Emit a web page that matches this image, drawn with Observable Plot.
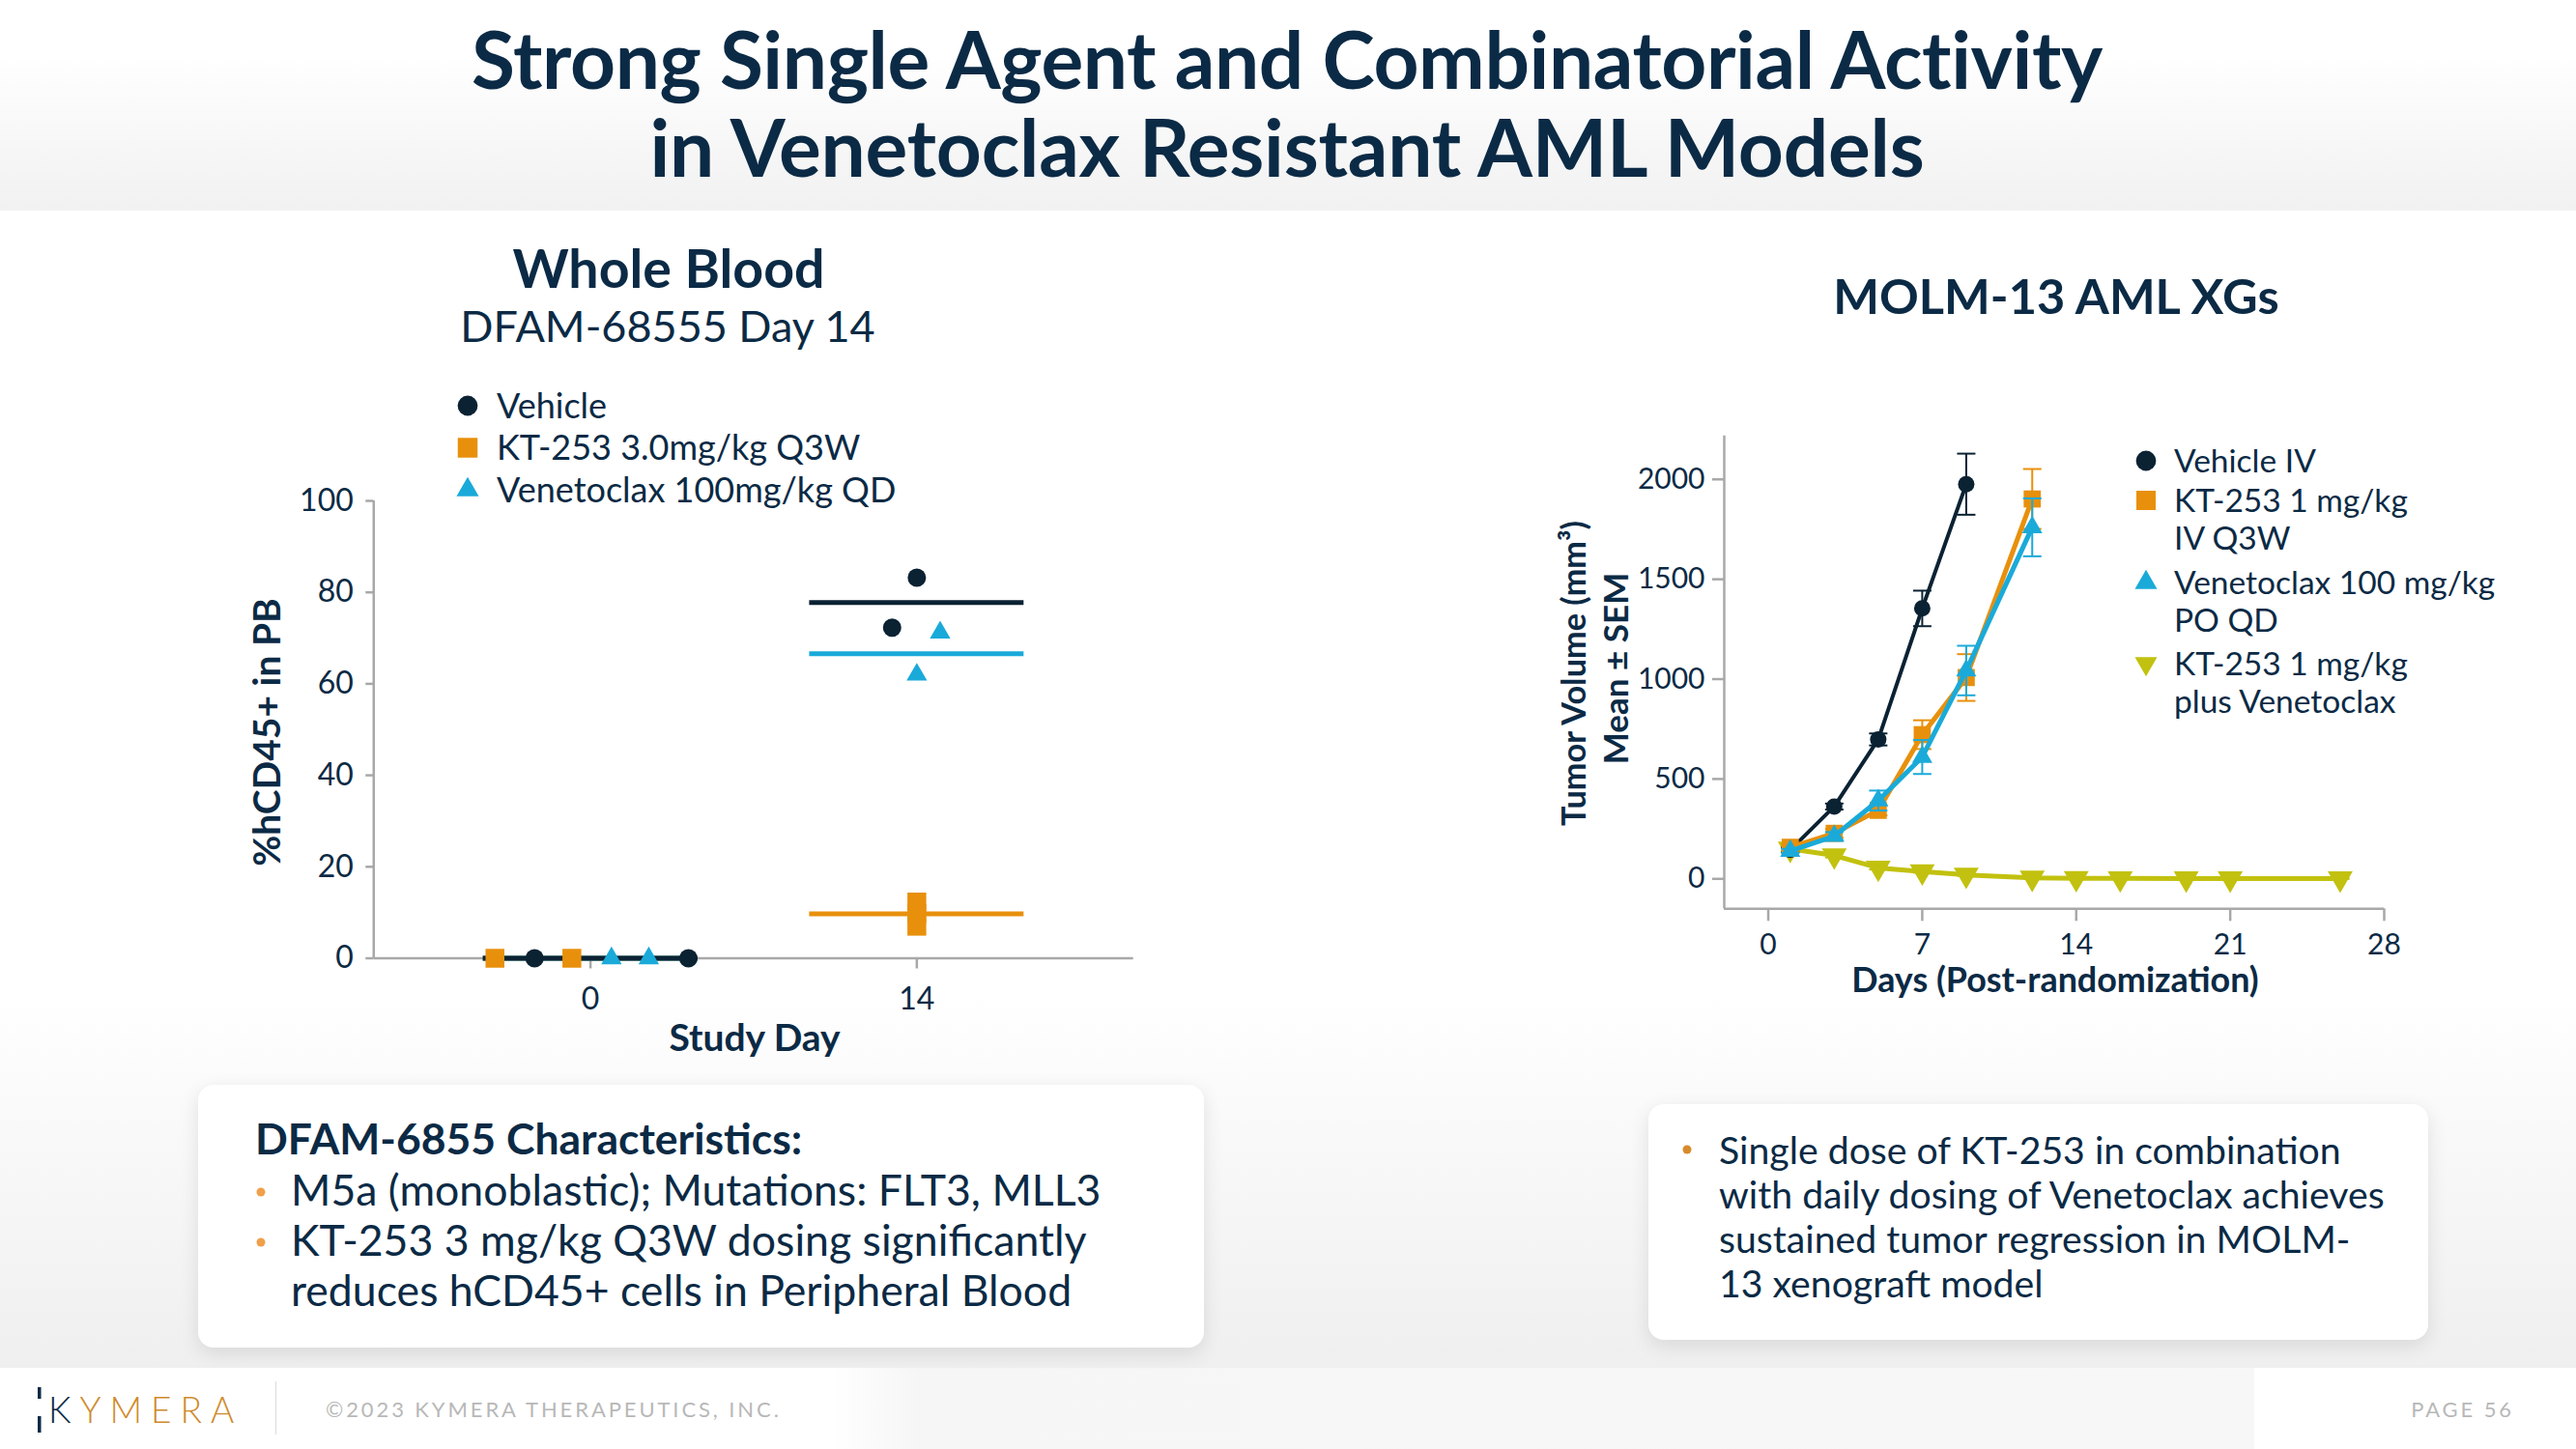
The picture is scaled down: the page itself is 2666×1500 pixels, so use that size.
<!DOCTYPE html>
<html>
<head>
<meta charset="utf-8">
<script src="https://cdn.jsdelivr.net/npm/d3@7"></script>
<script src="https://cdn.jsdelivr.net/npm/@observablehq/plot@0.6"></script>
<style>
html,body{margin:0;padding:0;}
body{width:2666px;height:1500px;position:relative;overflow:hidden;background:#fff;font-family:Lato,sans-serif;color:#0b2a45;}
.hdr{position:absolute;left:0;top:0;width:2666px;height:218px;background:linear-gradient(#ffffff 0%,#ffffff 25%,#f1f1f1 100%);}
.lower{position:absolute;left:0;top:1020px;width:2666px;height:396px;background:linear-gradient(rgba(242,242,242,0),#efefef);}
.footer{position:absolute;left:0;top:1416px;width:2666px;height:84px;background:#fff;}
.fgray{position:absolute;left:859px;top:1416px;width:1474px;height:84px;background:linear-gradient(90deg,#ffffff 0px,#f6f6f6 90px,#f7f7f7 100%);}
.box{position:absolute;background:#fff;border-radius:16px;box-shadow:0 6px 20px rgba(0,0,0,0.10);}
.chart{position:absolute;}
svg.overlay{position:absolute;left:0;top:0;pointer-events:none;}
</style>
</head>
<body>
<div class="hdr"></div>
<div class="lower"></div>
<div class="footer"></div>
<div class="fgray"></div>
<div class="box" style="left:205px;top:1123px;width:1041px;height:272px;"></div>
<div class="box" style="left:1706px;top:1143px;width:807px;height:244px;"></div>
<div id="wb" class="chart" style="left:250px;top:480px;"></div>
<div id="xg" class="chart" style="left:1700px;top:420px;"></div>

<svg class="overlay" id="overlay" width="2666" height="1500" xmlns="http://www.w3.org/2000/svg" font-family="Lato, sans-serif" fill="#0b2a45">
  <text x="1332" y="92" text-anchor="middle" font-size="82" font-weight="700" letter-spacing="-0.4">Strong Single Agent and Combinatorial Activity</text>
  <text x="1332" y="183" text-anchor="middle" font-size="82" font-weight="700" letter-spacing="-0.2">in Venetoclax Resistant AML Models</text>

  <text x="692" y="298" text-anchor="middle" font-size="55.5" font-weight="700">Whole Blood</text>
  <text x="691" y="354" text-anchor="middle" font-size="45">DFAM-68555 Day 14</text>
  <g id="wbLegend" font-size="36"></g>
  <text transform="translate(275,758) rotate(-90)" text-anchor="middle" dominant-baseline="central" font-size="39" font-weight="700">%hCD45+ in PB</text>
  <text x="781" y="1088" text-anchor="middle" font-size="39" font-weight="700">Study Day</text>

  <text x="2128" y="325" text-anchor="middle" font-size="50.5" font-weight="700">MOLM-13 AML XGs</text>
  <g id="xgLegend" font-size="33.5"></g>
  <text transform="translate(1627,697) rotate(-90)" text-anchor="middle" dominant-baseline="central" font-size="34.3" font-weight="700">Tumor Volume (mm³)</text>
  <text transform="translate(1671,692) rotate(-90)" text-anchor="middle" dominant-baseline="central" font-size="35" font-weight="700">Mean ± SEM</text>
  <text x="2127" y="1027" text-anchor="middle" font-size="35.9" font-weight="700">Days (Post-randomization)</text>

  <text x="264" y="1195" font-size="44.5" font-weight="700">DFAM-6855 Characteristics:</text>
  <circle cx="270" cy="1234" r="4.5" fill="#f0a04a"></circle>
  <text x="301" y="1248" font-size="44.6">M5a (monoblastic); Mutations: FLT3, MLL3</text>
  <circle cx="270" cy="1286" r="4.5" fill="#f0a04a"></circle>
  <text x="301" y="1300" font-size="44.6">KT-253 3 mg/kg Q3W dosing significantly</text>
  <text x="301" y="1352" font-size="44.6">reduces hCD45+ cells in Peripheral Blood</text>

  <circle cx="1746" cy="1190" r="4.5" fill="#d98a2a"></circle>
  <text x="1779" y="1205" font-size="39.2">Single dose of KT-253 in combination</text>
  <text x="1779" y="1251" font-size="39.2">with daily dosing of Venetoclax achieves</text>
  <text x="1779" y="1297" font-size="39.2">sustained tumor regression in MOLM-</text>
  <text x="1779" y="1343" font-size="39.2">13 xenograft model</text>

  <rect x="39" y="1436" width="3.5" height="12" fill="#0b2a45"></rect>
  <rect x="39" y="1466" width="3.5" height="17" fill="#0b2a45"></rect>
  <text x="50" y="1473" font-size="37" font-weight="300" letter-spacing="9"><tspan fill="#0b2a45">K</tspan><tspan fill="#cf8a2c">YMERA</tspan></text>
  <line x1="285.5" y1="1430" x2="285.5" y2="1485" stroke="#e2e2e2" stroke-width="1.5"></line>
  <text x="337" y="1467" font-size="22" letter-spacing="2.9" fill="#b8b8b8">©2023 KYMERA THERAPEUTICS, INC.</text>
  <text x="2602" y="1467" font-size="22" letter-spacing="2.9" text-anchor="end" fill="#b8b8b8">PAGE 56</text>
</svg>

<script>
// ---------- Colours ----------
const navy = "#0b2a45";
const axisGray = "#a8a8a8";
const cVeh = "#0b2233";
const cKT = "#e8900c";
const cVen = "#1aaad9";
const cCombo = "#c2c10f";

// ---------- Whole Blood (left) data ----------
const wbDomainX = [-9.3, 23.3];
const wbDomainY = [0, 100];
const wbTicksX = [0, 14];
const wbTicksY = [0, 20, 40, 60, 80, 100];
const wbLegendLabels = ["Vehicle", "KT-253 3.0mg/kg Q3W", "Venetoclax 100mg/kg QD"];
const vehDay = [0, 0, 14, 14];
const vehJitter = [-2.4, 4.2, -1.06, 0];
const vehPct = [0, 0, 72.3, 83.2];
const ktDay = [0, 0, 14, 14, 14];
const ktJitter = [-4.1, -0.8, 0, 0, 0];
const ktPct = [0, 0, 12.3, 9.8, 7.0];
const venDay = [0, 0, 14, 14];
const venJitter = [0.9, 2.5, 0, 1.0];
const venPct = [0, 0, 62.0, 71.2];
const meanHalfWidth = 4.6;

// ---------- MOLM-13 (right) data ----------
const xgDomainX = [-2, 28];
const xgDomainY = [-150, 2218];
const xgTicksX = [0, 7, 14, 21, 28];
const xgTicksY = [0, 500, 1000, 1500, 2000];
const xgLegendLabels = [["Vehicle IV"], ["KT-253 1 mg/kg", "IV Q3W"], ["Venetoclax 100 mg/kg", "PO QD"], ["KT-253 1 mg/kg", "plus Venetoclax"]];
const xgDays = [1, 3, 5, 7, 9, 12, 14, 16, 19, 21, 26];
const vehMean = [145, 362, 698, 1354, 1976];
const vehSem = [12, 15, 30, 89, 153];
const ktMean = [158, 228, 343, 722, 1008, 1902];
const ktSem = [15, 22, 25, 72, 117, 150];
const venMean = [140, 214, 392, 610, 1043, 1760];
const venSem = [10, 20, 50, 85, 124, 145];
const comboMean = [150, 117, 55, 37, 20, 5, 3, 2, 1, 1, 1];
const comboSem = [10, 10, 8, 6, 5, 2, 1, 1, 1, 1, 1];

// ---------- Whole Blood chart ----------
function wbRows(days, jit, vals) {
  return days.map((d, i) => ({day: d, jit: jit[i], val: vals[i]}));
}
function wbMeans(rows) {
  return d3.groups(rows, d => d.day).map(([day, g]) => ({day, mean: d3.mean(g, d => d.val)}));
}
const wbGroups = [
  {rows: wbRows(ktDay, ktJitter, ktPct), color: cKT, symbol: "square", r: 11},
  {rows: wbRows(venDay, venJitter, venPct), color: cVen, symbol: "triangle", r: 7.9},
  {rows: wbRows(vehDay, vehJitter, vehPct), color: cVeh, symbol: "circle", r: 9.5}
];

const wbMarks = [
  Plot.ruleX([wbDomainX[0]], {stroke: axisGray, strokeWidth: 2.5}),
  Plot.ruleY([wbDomainY[0]], {stroke: axisGray, strokeWidth: 2.5}),
  Plot.axisY({ticks: wbTicksY, tickSize: 8, tickPadding: 13, label: null, color: navy, stroke: axisGray, strokeWidth: 2.5, fontSize: 32}),
  Plot.axisX({ticks: wbTicksX, tickSize: 11, tickPadding: 19, label: null, color: navy, stroke: axisGray, strokeWidth: 2.5, fontSize: 32})
];
for (const g of wbGroups) {
  wbMarks.push(Plot.ruleY(wbMeans(g.rows), {y: "mean", x1: d => d.day - meanHalfWidth, x2: d => d.day + meanHalfWidth, stroke: g.color, strokeWidth: 5}));
}
for (const g of [wbGroups[2], wbGroups[0], wbGroups[1]]) {
  wbMarks.push(Plot.dot(g.rows, {x: d => d.day + d.jit, y: "val", symbol: g.symbol, r: g.r, fill: g.color, stroke: "none"}));
}

const wbPlot = Plot.plot({
  width: 950, height: 600,
  marginLeft: 136.3, marginRight: 27.3, marginTop: 38, marginBottom: 88.5,
  x: {domain: wbDomainX},
  y: {domain: wbDomainY},
  style: {fontFamily: "Lato, sans-serif", fontSize: "32px", color: navy, background: "transparent", overflow: "visible"},
  marks: wbMarks
});
document.getElementById("wb").appendChild(wbPlot);

// ---------- MOLM-13 chart ----------
const capSymbol = {
  draw(context, size) {
    const w = Math.sqrt(size / Math.PI);
    context.moveTo(-w, 0);
    context.lineTo(w, 0);
  }
};
function xgRows(mean, sem) {
  return mean.map((m, i) => ({day: xgDays[i], m, s: sem[i]}));
}
const xgSeries = [
  {rows: xgRows(comboMean, comboSem), color: cCombo, symbol: "triangle", r: 9.6, rotate: 180, sw: 5},
  {rows: xgRows(vehMean, vehSem), color: cVeh, symbol: "circle", r: 8.5, rotate: 0, sw: 4},
  {rows: xgRows(ktMean, ktSem), color: cKT, symbol: "square", r: 10, rotate: 0, sw: 5},
  {rows: xgRows(venMean, venSem), color: cVen, symbol: "triangle", r: 7.8, rotate: 0, sw: 5}
];
const xgMarks = [
  Plot.ruleX([xgDomainX[0]], {stroke: axisGray, strokeWidth: 2.5}),
  Plot.ruleY([xgDomainY[0]], {stroke: axisGray, strokeWidth: 2.5}),
  Plot.axisY({ticks: xgTicksY, tickFormat: d3.format("d"), tickSize: 12, tickPadding: 8, label: null, color: navy, stroke: axisGray, strokeWidth: 2.5, fontSize: 30}),
  Plot.axisX({ticks: xgTicksX, tickFormat: d3.format("d"), tickSize: 13, tickPadding: 13, label: null, color: navy, stroke: axisGray, strokeWidth: 2.5, fontSize: 30})
];
for (const s of xgSeries) {
  xgMarks.push(Plot.ruleX(s.rows, {x: "day", y1: d => d.m - d.s, y2: d => d.m + d.s, stroke: s.color, strokeWidth: 2}));
  xgMarks.push(Plot.dot(s.rows, {x: "day", y: d => d.m - d.s, symbol: capSymbol, r: 9.5, fill: "none", stroke: s.color, strokeWidth: 2}));
  xgMarks.push(Plot.dot(s.rows, {x: "day", y: d => d.m + d.s, symbol: capSymbol, r: 9.5, fill: "none", stroke: s.color, strokeWidth: 2}));
  xgMarks.push(Plot.line(s.rows, {x: "day", y: "m", stroke: s.color, strokeWidth: s.sw}));
  xgMarks.push(Plot.dot(s.rows, {x: "day", y: "m", symbol: s.symbol, r: s.r, rotate: s.rotate, fill: s.color, stroke: "none"}));
}
const xgPlot = Plot.plot({
  width: 800, height: 600,
  marginLeft: 84, marginRight: 33, marginTop: 30.7, marginBottom: 79.7,
  x: {domain: xgDomainX},
  y: {domain: xgDomainY},
  style: {fontFamily: "Lato, sans-serif", fontSize: "30px", color: navy, background: "transparent", overflow: "visible"},
  marks: xgMarks
});
document.getElementById("xg").appendChild(xgPlot);

// ---------- Legends ----------
const ns = "http://www.w3.org/2000/svg";
function addLegendRow(g, sx, cy, type, area, rot, color, lines, tx, lineGap, fontSize) {
  const p = document.createElementNS(ns, "path");
  p.setAttribute("d", d3.symbol().type(type).size(area)());
  p.setAttribute("transform", `translate(${sx},${cy}) rotate(${rot})`);
  p.setAttribute("fill", color);
  g.appendChild(p);
  lines.forEach((t, i) => {
    const tEl = document.createElementNS(ns, "text");
    tEl.setAttribute("x", tx);
    tEl.setAttribute("y", cy + fontSize * 0.35 + i * lineGap);
    tEl.textContent = t;
    g.appendChild(tEl);
  });
}
const wbL = document.getElementById("wbLegend");
const wbSyms = [[d3.symbolCircle, 340, cVeh], [d3.symbolSquare, 420, cKT], [d3.symbolTriangle, 230, cVen]];
wbLegendLabels.forEach((lab, i) => {
  addLegendRow(wbL, 484, 420 + i * 43.5, wbSyms[i][0], wbSyms[i][1], 0, wbSyms[i][2], [lab], 514, 0, 36);
});
const xgL = document.getElementById("xgLegend");
const xgSyms = [[d3.symbolCircle, 340, 0, cVeh], [d3.symbolSquare, 400, 0, cKT], [d3.symbolTriangle, 230, 0, cVen], [d3.symbolTriangle, 230, 180, cCombo]];
const xgRowY = [477, 518, 603, 687];
xgLegendLabels.forEach((lines, i) => {
  addLegendRow(xgL, 2221, xgRowY[i], xgSyms[i][0], xgSyms[i][1], xgSyms[i][2], xgSyms[i][3], lines, 2250, 39, 33.5);
});
</script>
</body>
</html>
